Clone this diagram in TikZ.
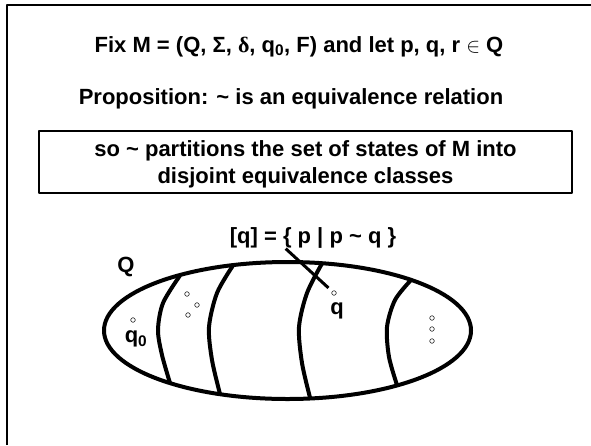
\documentclass[tikz,border=0pt]{standalone}
\usepackage{fontspec}
\setmainfont{Liberation Sans}
\newfontfamily\grkfont{Liberation Serif}
\begin{document}
\begin{tikzpicture}[x=1pt, y=-1pt, font=\fontsize{22}{27}\selectfont\bfseries, line join=round,
		dot/.style={circle, draw, line width=0.5pt, inner sep=0pt, minimum size=4.6pt},
		part/.style={line width=4pt},
		lbl/.style={inner sep=0pt}]
	\useasboundingbox (0,0) rectangle (591,445);
	\draw[line width=2.5pt] (7,445)--(7,5)--(591,5);
	\node[lbl, anchor=base] (fix) at (299,52) {Fix M = (Q, Σ, {\grkfont δ}, q\textsubscript{0}, F) and let p, q, r $\in$ Q};
	\node[lbl, anchor=base] (prop) at (291,104) {Proposition: \textasciitilde{} is an equivalence relation};
	\node[lbl, align=center] (part) at (305.5,164) {so \textasciitilde{} partitions the set of states of M into\\disjoint equivalence classes};
	\draw[line width=2pt] (39,131) rectangle (572,193);
	\coordinate (c) at (287.5,330.5);
	\draw[line width=4pt] (c) ellipse [x radius=183.5, y radius=68.5];
	\draw[part] plot[smooth] coordinates {(180,275.5) (163,303) (158,330) (162,355) (170,383)};
	\draw[part] plot[smooth] coordinates {(233,265.5) (217,293) (209,327) (212,360) (220,394)};
	\draw[part] plot[smooth] coordinates {(322,263.5) (307,293) (299,327) (302,363) (310,397.5)};
	\draw[part] plot[smooth] coordinates {(411,280) (395,300) (387,327) (389,357) (397,385)};
	\node[lbl] (Q) at (126,267) {Q};
	\node[dot] (q0) at (133,320) {};
	\node[lbl] (q0lbl) at (136,339) {q\textsubscript{0}};
	\node[dot] (p1) at (187,294) {};
	\node[dot] (p2) at (197,305) {};
	\node[dot] (p3) at (188,315) {};
	\node[dot] (q) at (334,293) {};
	\node[lbl] (qlbl) at (337,311) {q};
	\node[dot] (r1) at (432,318) {};
	\node[dot] (r2) at (432,329) {};
	\node[dot] (r3) at (432,341) {};
	\node[lbl] (cls) at (313,238) {[q] = \{ p | p \textasciitilde{} q \}};
	\draw[line width=3pt, shorten >=5pt] (cls.south west) ++(56,0)--(q);
\end{tikzpicture}
\end{document}
